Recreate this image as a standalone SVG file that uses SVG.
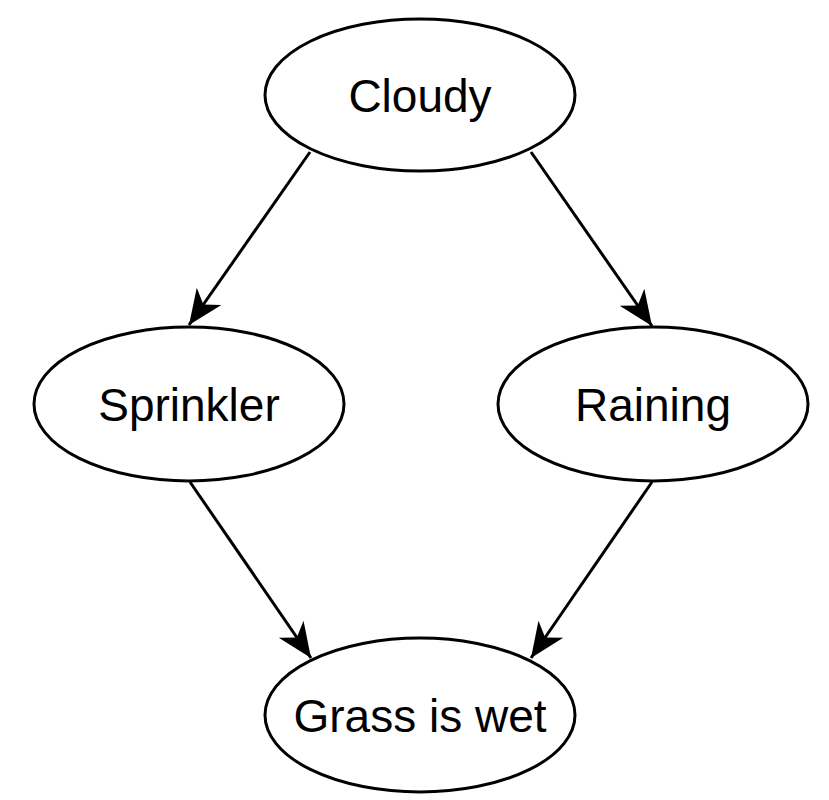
<svg xmlns="http://www.w3.org/2000/svg" width="829" height="800" viewBox="0 0 829 800">
<style>
.node ellipse{fill:#fff;stroke:#000;stroke-width:3}
.node text{font-family:"Liberation Sans",Arial,sans-serif;font-size:46px;fill:#000;text-anchor:middle;dominant-baseline:central}
.edge{stroke:#000;stroke-width:3;fill:none;marker-end:url(#arr)}
</style>
<defs>
<marker id="arr" markerUnits="userSpaceOnUse" viewBox="-38 -17 40 34" refX="0" refY="0" markerWidth="40" markerHeight="34" orient="auto">
<path d="M0,0 L-35,-15 L-25,0 L-35,15 Z" fill="#000"/>
</marker>
</defs>
<rect width="829" height="800" fill="#fff"/>
<g id="connectors">
<line class="edge" x1="310" y1="152" x2="189" y2="325"/>
<line class="edge" x1="531" y1="152" x2="652" y2="326"/>
<line class="edge" x1="190" y1="482" x2="311" y2="658"/>
<line class="edge" x1="652" y1="482" x2="531" y2="658"/>
</g>
<g id="cloudy" class="node"><ellipse cx="420" cy="95" rx="155" ry="76"/><text x="420" y="96">Cloudy</text></g>
<g id="sprinkler" class="node"><ellipse cx="189" cy="404" rx="155" ry="77"/><text x="189" y="405">Sprinkler</text></g>
<g id="raining" class="node"><ellipse cx="653" cy="404" rx="155" ry="77"/><text x="653" y="405">Raining</text></g>
<g id="grass" class="node"><ellipse cx="420" cy="715" rx="155" ry="77"/><text x="420" y="716">Grass is wet</text></g>
</svg>
